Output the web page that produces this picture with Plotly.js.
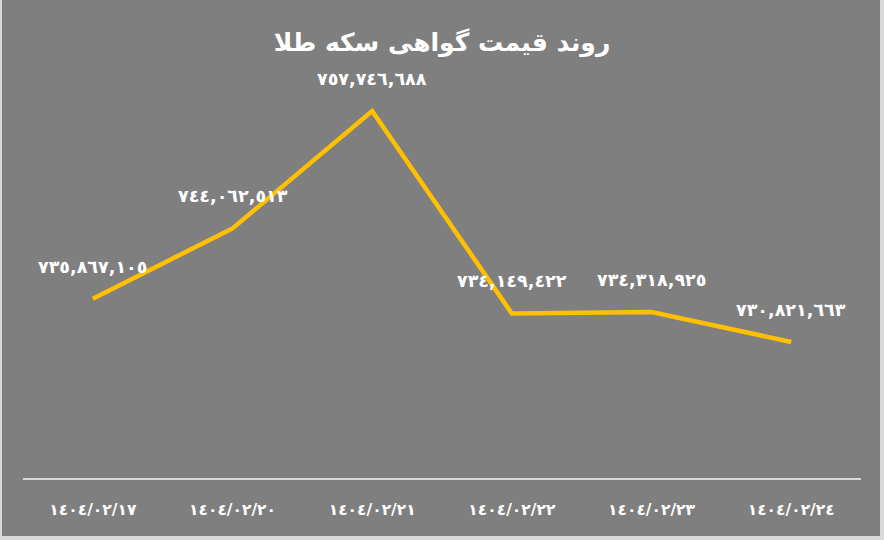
<!DOCTYPE html>
<html>
<head>
<meta charset="utf-8">
<script src="https://cdn.plot.ly/plotly-3.0.1.min.js"></script>
<style>
  html, body { margin:0; padding:0; background:#d9d9d9; width:884px; height:540px; overflow:hidden; }
  #chart { position:absolute; left:2px; top:0; width:878px; height:536px; }
</style>
</head>
<body>
<div id="chart"></div>
<script>
// Data
const dates = ["١٤٠٤/٠٢/١٧", "١٤٠٤/٠٢/٢٠", "١٤٠٤/٠٢/٢١", "١٤٠٤/٠٢/٢٢", "١٤٠٤/٠٢/٢٣", "١٤٠٤/٠٢/٢٤"];
const prices = [735867105, 744062513, 757746688, 734149422, 734318925, 730821663];
const titleText = "روند قیمت گواهی سکه طلا";

function toArabicDigits(s) {
  const d = "٠١٢٣٤٥٦٧٨٩";
  return s.replace(/[0-9]/g, c => d[+c]);
}
const labels = prices.map(v => toArabicDigits(v.toLocaleString("en-US")));

const fontFam = "'DejaVu Sans', 'Noto Sans', sans-serif";

const trace = {
  x: dates,
  y: prices,
  type: "scatter",
  mode: "lines",
  line: { color: "#FFC000", width: 4.5 },
  hoverinfo: "skip"
};

const annotations = dates.map((d, i) => ({
  x: d, y: prices[i], xref: "x", yref: "y",
  text: labels[i], showarrow: false,
  yanchor: "middle", xanchor: "center",
  yshift: 32,
  font: { family: fontFam, size: 17.5, color: "#ffffff", weight: "bold" }
}));

const layout = {
  width: 878, height: 536,
  paper_bgcolor: "#7f7f7f",
  plot_bgcolor: "#7f7f7f",
  margin: { l: 21, r: 19, t: 48, b: 58 },
  title: {
    text: "<b>" + titleText + "</b>",
    x: 0.5, xref: "paper", xanchor: "center",
    y: 1 - 42/536, yref: "container", yanchor: "middle",
    font: { family: fontFam, size: 25, color: "#ffffff" }
  },
  showlegend: false,
  xaxis: {
    type: "category",
    range: [-0.5, 5.5],
    showgrid: false, zeroline: false,
    showline: true, linecolor: "#d9d9d9", linewidth: 2,
    ticks: "", ticklabelstandoff: 16,
    tickfont: { family: fontFam, size: 15.5, color: "#ffffff", weight: "bold" },
    fixedrange: true
  },
  yaxis: {
    range: [714.97e6, 765.09e6],
    visible: false, showgrid: false, zeroline: false,
    fixedrange: true
  },
  annotations: annotations
};

Plotly.newPlot("chart", [trace], layout, { displayModeBar: false, staticPlot: true });
</script>
</body>
</html>
